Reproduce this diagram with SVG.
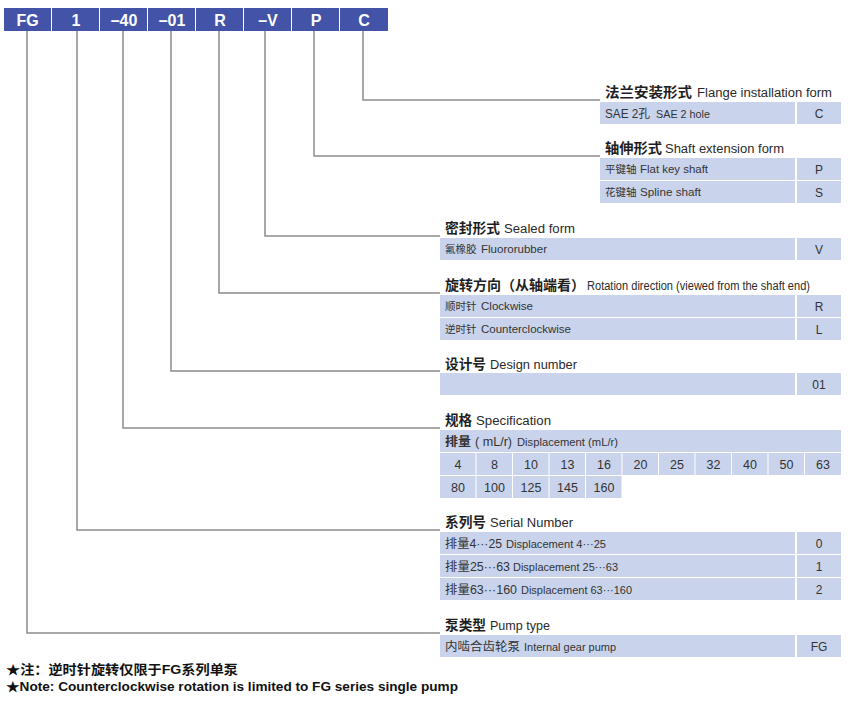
<svg xmlns="http://www.w3.org/2000/svg" width="850" height="708" viewBox="0 0 850 708">
<style>
.bar{fill:#4354a8}
.bt{font-family:"Liberation Sans",Arial,sans-serif;font-size:16px;font-weight:bold;fill:#ffffff;text-anchor:middle}
.cell{fill:#c9d3ec}
.ln{stroke:#8c8c8c;stroke-width:1.5;fill:none}
.hz{font-family:"Liberation Sans","Noto Sans CJK SC",sans-serif;font-size:13.5px;font-weight:bold;fill:#1e1e1e}
.he{font-family:"Liberation Sans","Noto Sans CJK SC",sans-serif;font-size:12.5px;fill:#2a2a2a}
.rz{font-family:"Liberation Sans","Noto Sans CJK SC",sans-serif;font-size:10.5px;fill:#333333}
.rb{font-family:"Liberation Sans","Noto Sans CJK SC",sans-serif;font-size:12px;fill:#333333}
.re{font-family:"Liberation Sans",Arial,sans-serif;font-size:10.5px;fill:#333333}
.code{font-family:"Liberation Sans",Arial,sans-serif;font-size:12px;fill:#333333;text-anchor:middle}
.num{font-family:"Liberation Sans",Arial,sans-serif;font-size:12.5px;fill:#333333;text-anchor:middle}
.note{font-family:"Liberation Sans","Noto Sans CJK SC",sans-serif;font-size:13px;font-weight:bold;fill:#111111}
</style>

<g id="header">
  <g id="h-fg"><rect class="bar" x="4" y="8" width="47" height="23"/><text class="bt" x="27.5" y="25.5">FG</text></g>
  <g id="h-1"><rect class="bar" x="52" y="8" width="47" height="23"/><text class="bt" x="76" y="25.5">1</text></g>
  <g id="h-40"><rect class="bar" x="100" y="8" width="47" height="23"/><text class="bt" x="124" y="25.5">–40</text></g>
  <g id="h-01"><rect class="bar" x="148" y="8" width="47" height="23"/><text class="bt" x="172" y="25.5">–01</text></g>
  <g id="h-r"><rect class="bar" x="196" y="8" width="47" height="23"/><text class="bt" x="220" y="25.5">R</text></g>
  <g id="h-v"><rect class="bar" x="244" y="8" width="47" height="23"/><text class="bt" x="268" y="25.5">–V</text></g>
  <g id="h-p"><rect class="bar" x="292" y="8" width="47" height="23"/><text class="bt" x="316" y="25.5">P</text></g>
  <g id="h-c"><rect class="bar" x="340" y="8" width="48" height="23"/><text class="bt" x="364" y="25.5">C</text></g>
</g>

<g id="connectors">
  <path class="ln" d="M363 31 V100 H600"/>
  <path class="ln" d="M314 31 V156 H600"/>
  <path class="ln" d="M265 31 V236 H440"/>
  <path class="ln" d="M219 31 V293 H440"/>
  <path class="ln" d="M171 31 V371 H440"/>
  <path class="ln" d="M123 31 V428 H440"/>
  <path class="ln" d="M77 31 V530 H440"/>
  <path class="ln" d="M27 31 V633 H440"/>
</g>

<g id="flange">
  <text class="hz" x="605" y="97" textLength="87" lengthAdjust="spacingAndGlyphs">法兰安装形式</text>
  <text class="he" x="697" y="97" textLength="135" lengthAdjust="spacingAndGlyphs">Flange installation form</text>
  <rect class="cell" x="600" y="102" width="195" height="22"/><rect class="cell" x="797" y="102" width="44" height="22"/>
  <text class="rb" x="605" y="117.5" textLength="45" lengthAdjust="spacingAndGlyphs">SAE 2孔</text>
  <text class="re" x="656" y="117.5" textLength="54" lengthAdjust="spacingAndGlyphs">SAE 2 hole</text>
  <text class="code" x="819" y="117.5">C</text>
</g>

<g id="shaft">
  <text class="hz" x="605" y="153" textLength="57" lengthAdjust="spacingAndGlyphs">轴伸形式</text>
  <text class="he" x="665" y="153" textLength="119" lengthAdjust="spacingAndGlyphs">Shaft extension form</text>
  <rect class="cell" x="600" y="158" width="195" height="22"/><rect class="cell" x="797" y="158" width="44" height="22"/>
  <rect class="cell" x="600" y="181" width="195" height="22"/><rect class="cell" x="797" y="181" width="44" height="22"/>
  <text class="rz" x="605" y="173">平键轴</text>
  <text class="re" x="640" y="173" textLength="68" lengthAdjust="spacingAndGlyphs">Flat key shaft</text>
  <text class="code" x="819" y="173.5">P</text>
  <text class="rz" x="605" y="196">花键轴</text>
  <text class="re" x="640" y="196" textLength="61" lengthAdjust="spacingAndGlyphs">Spline shaft</text>
  <text class="code" x="819" y="196.5">S</text>
</g>

<g id="sealed">
  <text class="hz" x="445" y="233" textLength="55" lengthAdjust="spacingAndGlyphs">密封形式</text>
  <text class="he" x="504" y="233" textLength="71" lengthAdjust="spacingAndGlyphs">Sealed form</text>
  <rect class="cell" x="440" y="238" width="355" height="22"/><rect class="cell" x="797" y="238" width="44" height="22"/>
  <text class="rz" x="445" y="253">氟橡胶</text>
  <text class="re" x="481" y="253" textLength="66" lengthAdjust="spacingAndGlyphs">Fluororubber</text>
  <text class="code" x="819" y="253.5">V</text>
</g>

<g id="rotation">
  <text class="hz" x="445" y="290" textLength="140" lengthAdjust="spacingAndGlyphs">旋转方向（从轴端看）</text>
  <text class="he" x="587" y="290" textLength="223" lengthAdjust="spacingAndGlyphs">Rotation direction (viewed from the shaft end)</text>
  <rect class="cell" x="440" y="295" width="355" height="22"/><rect class="cell" x="797" y="295" width="44" height="22"/>
  <rect class="cell" x="440" y="318" width="355" height="22"/><rect class="cell" x="797" y="318" width="44" height="22"/>
  <text class="rz" x="445" y="310">顺时针</text>
  <text class="re" x="481" y="310" textLength="52" lengthAdjust="spacingAndGlyphs">Clockwise</text>
  <text class="code" x="819" y="310.5">R</text>
  <text class="rz" x="445" y="333">逆时针</text>
  <text class="re" x="481" y="333" textLength="90" lengthAdjust="spacingAndGlyphs">Counterclockwise</text>
  <text class="code" x="819" y="333.5">L</text>
</g>

<g id="design">
  <text class="hz" x="445" y="369" textLength="41" lengthAdjust="spacingAndGlyphs">设计号</text>
  <text class="he" x="490" y="369" textLength="87" lengthAdjust="spacingAndGlyphs">Design number</text>
  <rect class="cell" x="440" y="373" width="355" height="22"/><rect class="cell" x="797" y="373" width="44" height="22"/>
  <text class="code" x="819" y="388.5">01</text>
</g>

<g id="spec">
  <text class="hz" x="445" y="425" textLength="27" lengthAdjust="spacingAndGlyphs">规格</text>
  <text class="he" x="476" y="425" textLength="75" lengthAdjust="spacingAndGlyphs">Specification</text>
  <rect class="cell" x="440" y="430" width="401" height="22"/>
  <text class="rb" x="445" y="445.5" font-weight="bold" textLength="26" lengthAdjust="spacingAndGlyphs">排量</text>
  <text class="rb" x="475" y="445.5" textLength="37" lengthAdjust="spacingAndGlyphs">( mL/r)</text>
  <text class="re" x="517" y="445.5" textLength="101" lengthAdjust="spacingAndGlyphs">Displacement (mL/r)</text>
  <g id="spec-row1">
    <rect class="cell" x="440" y="453" width="35.5" height="22"/><text class="num" x="458" y="468.5">4</text>
    <rect class="cell" x="476.5" y="453" width="35.5" height="22"/><text class="num" x="494.5" y="468.5">8</text>
    <rect class="cell" x="513" y="453" width="35.5" height="22"/><text class="num" x="531" y="468.5">10</text>
    <rect class="cell" x="549.5" y="453" width="35.5" height="22"/><text class="num" x="567.5" y="468.5">13</text>
    <rect class="cell" x="586" y="453" width="35.5" height="22"/><text class="num" x="604" y="468.5">16</text>
    <rect class="cell" x="622.5" y="453" width="35.5" height="22"/><text class="num" x="640.5" y="468.5">20</text>
    <rect class="cell" x="659" y="453" width="35.5" height="22"/><text class="num" x="677" y="468.5">25</text>
    <rect class="cell" x="695.5" y="453" width="35.5" height="22"/><text class="num" x="713.5" y="468.5">32</text>
    <rect class="cell" x="732" y="453" width="35.5" height="22"/><text class="num" x="750" y="468.5">40</text>
    <rect class="cell" x="768.5" y="453" width="35.5" height="22"/><text class="num" x="786.5" y="468.5">50</text>
    <rect class="cell" x="805" y="453" width="36" height="22"/><text class="num" x="823" y="468.5">63</text>
  </g>
  <g id="spec-row2">
    <rect class="cell" x="440" y="476" width="35.5" height="22"/><text class="num" x="458" y="491.5">80</text>
    <rect class="cell" x="476.5" y="476" width="35.5" height="22"/><text class="num" x="494.5" y="491.5">100</text>
    <rect class="cell" x="513" y="476" width="35.5" height="22"/><text class="num" x="531" y="491.5">125</text>
    <rect class="cell" x="549.5" y="476" width="35.5" height="22"/><text class="num" x="567.5" y="491.5">145</text>
    <rect class="cell" x="586" y="476" width="35.5" height="22"/><text class="num" x="604" y="491.5">160</text>
  </g>
</g>

<g id="serial">
  <text class="hz" x="445" y="527" textLength="41" lengthAdjust="spacingAndGlyphs">系列号</text>
  <text class="he" x="490" y="527" textLength="83" lengthAdjust="spacingAndGlyphs">Serial Number</text>
  <rect class="cell" x="440" y="532" width="355" height="22"/><rect class="cell" x="797" y="532" width="44" height="22"/>
  <rect class="cell" x="440" y="555" width="355" height="22"/><rect class="cell" x="797" y="555" width="44" height="22"/>
  <rect class="cell" x="440" y="578" width="355" height="22"/><rect class="cell" x="797" y="578" width="44" height="22"/>
  <text class="rb" x="445" y="547.5" textLength="57" lengthAdjust="spacingAndGlyphs">排量4···25</text>
  <text class="re" x="506" y="547.5" textLength="100" lengthAdjust="spacingAndGlyphs">Displacement 4···25</text>
  <text class="code" x="819" y="548">0</text>
  <text class="rb" x="445" y="570.5" textLength="65" lengthAdjust="spacingAndGlyphs">排量25···63</text>
  <text class="re" x="513" y="570.5" textLength="105" lengthAdjust="spacingAndGlyphs">Displacement 25···63</text>
  <text class="code" x="819" y="571">1</text>
  <text class="rb" x="445" y="593.5" textLength="72" lengthAdjust="spacingAndGlyphs">排量63···160</text>
  <text class="re" x="521" y="593.5" textLength="111" lengthAdjust="spacingAndGlyphs">Displacement 63···160</text>
  <text class="code" x="819" y="594">2</text>
</g>

<g id="pump">
  <text class="hz" x="445" y="630" textLength="41" lengthAdjust="spacingAndGlyphs">泵类型</text>
  <text class="he" x="490" y="630" textLength="60" lengthAdjust="spacingAndGlyphs">Pump type</text>
  <rect class="cell" x="440" y="635" width="355" height="22"/><rect class="cell" x="797" y="635" width="44" height="22"/>
  <text class="rb" x="445" y="650.5" textLength="75" lengthAdjust="spacingAndGlyphs">内啮合齿轮泵</text>
  <text class="re" x="524" y="650.5" textLength="92" lengthAdjust="spacingAndGlyphs">Internal gear pump</text>
  <text class="code" x="819" y="651">FG</text>
</g>

<g id="notes">
  <text class="note" x="6" y="674" textLength="232" lengthAdjust="spacingAndGlyphs">★注：逆时针旋转仅限于FG系列单泵</text>
  <text class="note" x="6" y="691" textLength="452" lengthAdjust="spacingAndGlyphs">★Note: Counterclockwise rotation is limited to FG series single pump</text>
</g>
</svg>
